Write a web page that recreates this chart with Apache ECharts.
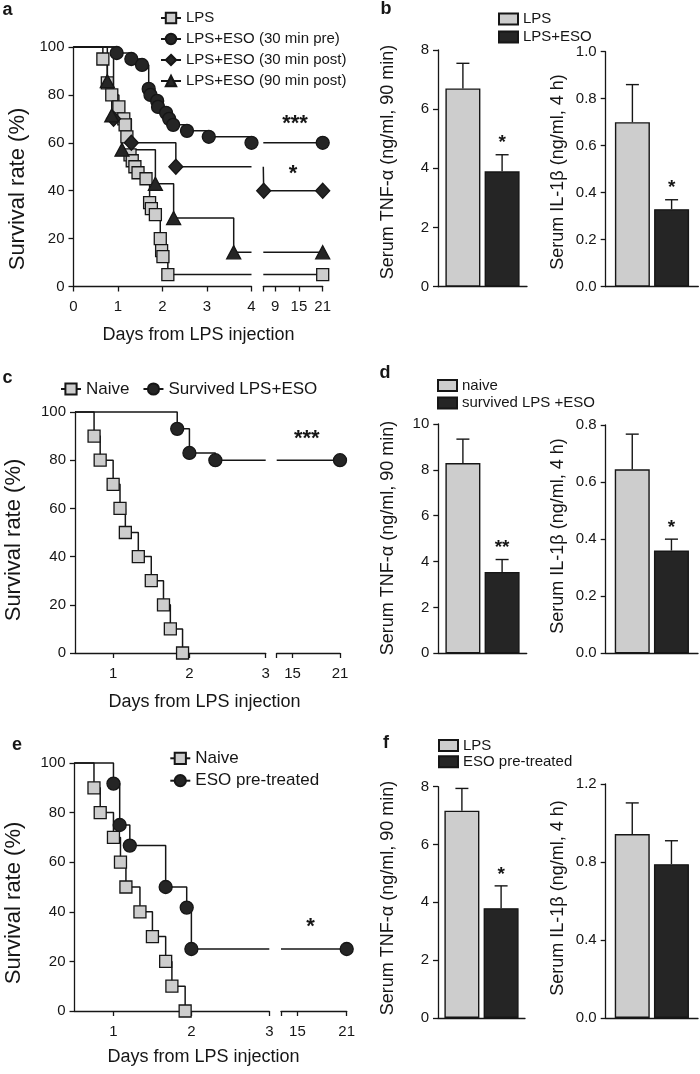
<!DOCTYPE html>
<html><head><meta charset="utf-8">
<script src="https://cdn.jsdelivr.net/npm/echarts@6/dist/echarts.min.js"></script>
<style>
html,body{margin:0;padding:0;background:#fff;width:700px;height:1074px;overflow:hidden}
.p{position:absolute;left:0;top:0;width:700px;height:1074px}
</style>
</head><body>
<div id="pa" class="p"></div><div id="pb" class="p"></div>
<div id="pc" class="p"></div><div id="pd" class="p"></div>
<div id="pe" class="p"></div><div id="pf" class="p"></div>
<script>
// ---------------- DATA ----------------
// Panel a : Kaplan-Meier survival, [day, survival %]
const aNames = ['LPS', 'LPS+ESO (30 min pre)', 'LPS+ESO (30 min post)', 'LPS+ESO (90 min post)'];
const aLPS = [[0,100],[0.66,95],[0.76,85],[0.86,80],[1.02,75],[1.13,70],[1.16,67.5],[1.2,62.5],[1.27,55],[1.32,52.5],[1.38,50],[1.45,47.5],[1.63,45],[1.71,35],[1.75,32.5],[1.84,30],[1.95,20],[1.98,15],[2.01,12.5],[2.12,5],[21,5]];
const aPre = [[0,100],[0.97,97.5],[1.3,95],[1.54,92.5],[1.69,82.5],[1.73,80],[1.88,77.5],[1.9,75],[2.08,72.5],[2.15,70],[2.24,67.5],[2.55,65],[3.04,62.5],[4,60],[21,60]];
const aPost30 = [[0,100],[0.9,70],[1.3,60],[2.3,50],[6.1,40],[21,40]];
const aPost90 = [[0,100],[0.76,85.7],[0.86,71.4],[1.09,57.1],[1.84,42.9],[2.25,28.6],[3.6,14.3],[21,14.3]];
const aEarlyTicks = [0, 1, 2, 3, 4];
const aLateTicks = [9, 15, 21];
const aStarPos = [[14, 68], [13.5, 47]];
const aStarText = ['***', '*'];

// Panel b : serum cytokines
const bGroups = ['LPS', 'LPS+ESO'];
const bTnfMean = [6.7, 3.9];
const bTnfErr = [0.85, 0.56];
const bTnfSig = ['', '*'];
const bIl1Mean = [0.70, 0.33];
const bIl1Err = [0.16, 0.04];
const bIl1Sig = ['', '*'];

// Panel c
const cNames = ['Naive', 'Survived LPS+ESO'];
const cNaive = [[0,100],[0.75,90],[0.83,80],[1.0,70],[1.09,60],[1.16,50],[1.33,40],[1.5,30],[1.66,20],[1.75,10],[1.91,0]];
const cSurvived = [[0,100],[1.84,93],[2.0,83],[2.34,80],[21,80]];
const cEarlyTicks = [1, 2, 3];
const cLateTicks = [15, 21];
const cStarPos = [[16.8, 89]];
const cStarText = ['***'];

// Panel d
const dGroups = ['naive', 'survived LPS +ESO'];
const dTnfMean = [8.3, 3.55];
const dTnfErr = [1.04, 0.54];
const dTnfSig = ['', '**'];
const dIl1Mean = [0.645, 0.36];
const dIl1Err = [0.123, 0.04];
const dIl1Sig = ['', '*'];

// Panel e
const eNames = ['Naive', 'ESO pre-treated'];
const eNaive = [[0,100],[0.75,90],[0.83,80],[1.0,70],[1.09,60],[1.16,50],[1.34,40],[1.5,30],[1.67,20],[1.75,10],[1.92,0]];
const eEso = [[0,100],[1.0,91.7],[1.08,75],[1.21,66.7],[1.67,50],[1.94,41.7],[2.0,25],[21,25]];
const eEarlyTicks = [1, 2, 3];
const eLateTicks = [15, 21];
const eStarPos = [[16.6, 34]];
const eStarText = ['*'];

// Panel f
const fGroups = ['LPS', 'ESO pre-treated'];
const fTnfMean = [7.17, 3.8];
const fTnfErr = [0.77, 0.77];
const fTnfSig = ['', '*'];
const fIl1Mean = [0.943, 0.789];
const fIl1Err = [0.16, 0.12];
const fIl1Sig = ['', ''];

// ---------------- STYLE / HELPERS ----------------
const FONT = '"Liberation Sans", Arial, Helvetica, sans-serif';
const INK = '#161616';
const LIGHT = '#cdcdcd';
const DARK = '#252525';
const AX = {color: INK, width: 1.3};

function txt(x, y, text, size, rot, bold) {
  return {type: 'text', x: x, y: y, rotation: rot || 0, silent: true,
    style: {text: text, fill: INK, font: (bold ? 'bold ' : '') + size + 'px ' + FONT,
      textAlign: 'center', textVerticalAlign: 'middle'}};
}
function grid(g) { return Object.assign({outerBoundsMode: 'none', containLabel: false}, g); }

function xVal(gi, min, max, ticks, labels) {
  return {type: 'value', gridIndex: gi, min: min, max: max,
    axisLine: {show: true, onZero: false, lineStyle: AX},
    axisTick: {show: true, inside: false, length: 5, lineStyle: AX, customValues: ticks},
    axisLabel: {show: true, margin: 13, fontSize: 15, fontFamily: FONT, color: INK, customValues: labels},
    splitLine: {show: false}};
}
function yVal(gi, min, max, interval, show, dec) {
  return {type: 'value', gridIndex: gi, min: min, max: max, interval: interval, show: show,
    axisLine: {show: true, onZero: false, lineStyle: AX},
    axisTick: {show: true, inside: false, length: 5, lineStyle: AX},
    axisLabel: {margin: 9, fontSize: 15, fontFamily: FONT, color: INK,
      formatter: function (v) { return v.toFixed(dec); }},
    splitLine: {show: false}};
}
function xCat(gi) {
  return {type: 'category', gridIndex: gi, data: ['g'],
    axisLine: {show: true, onZero: false, lineStyle: AX},
    axisTick: {show: false}, axisLabel: {show: false}, splitLine: {show: false}};
}

const SYM = {
  square: {symbol: 'rect', size: 12, fill: LIGHT},
  circle: {symbol: 'circle', size: 13, fill: DARK},
  diamond: {symbol: 'diamond', size: [14, 15], fill: DARK},
  triangle: {symbol: 'triangle', size: [14, 13], fill: DARK}
};

// Kaplan-Meier step curve, split across a broken x axis (two grids)
function kmSeries(name, pts, sym, leftMin, leftMax, rightMin, gL, gR) {
  const left = [], right = [];
  let level = pts[0][1], lastDay = pts[0][0];
  pts.forEach(function (p, i) {
    if (p[0] <= leftMax) {
      const v = [Math.max(p[0], leftMin), p[1]];
      left.push(i === 0 ? {value: v, symbol: 'none'} : v);
      level = p[1]; lastDay = p[0];
    }
  });
  if (lastDay < leftMax && level > 0) left.push({value: [leftMax, level], symbol: 'none'});
  const late = pts.filter(function (p) { return p[0] > leftMax; });
  if (late.length) {
    right.push({value: [rightMin, level], symbol: 'none'});
    late.forEach(function (p) { right.push(p); });
  }
  const s = SYM[sym];
  const base = {type: 'line', name: name, step: 'end', symbol: s.symbol, symbolSize: s.size,
    showSymbol: true, showAllSymbol: true, clip: false, animation: false,
    itemStyle: {color: s.fill, borderColor: INK, borderWidth: 1.3},
    lineStyle: {color: INK, width: 1.5}, emphasis: {disabled: true}};
  const out = [Object.assign({}, base, {xAxisIndex: gL, yAxisIndex: gL, data: left})];
  if (right.length) out.push(Object.assign({}, base, {xAxisIndex: gR, yAxisIndex: gR, data: right}));
  return out;
}

function starSeries(pos, texts, gi, size) {
  return {type: 'custom', xAxisIndex: gi, yAxisIndex: gi, data: pos, silent: true, z: 10, animation: false,
    renderItem: function (params, api) {
      const pt = api.coord([api.value(0), api.value(1)]);
      return {type: 'text', x: pt[0], y: pt[1],
        style: {text: texts[params.dataIndex], font: 'bold ' + size + 'px ' + FONT, fill: INK,
          textAlign: 'center', textVerticalAlign: 'middle'}};
    }};
}

const BW = 35, GAPPCT = 0.12;
function barSeries(groups, means, gi) {
  return groups.map(function (g, i) {
    return {type: 'bar', name: g, xAxisIndex: gi, yAxisIndex: gi, data: [means[i]],
      barWidth: BW, barGap: (GAPPCT * 100) + '%', animation: false,
      itemStyle: {color: i === 0 ? LIGHT : DARK, borderColor: INK, borderWidth: 1.4},
      emphasis: {disabled: true}};
  });
}
function errSeries(means, errs, sigs, gi) {
  const n = means.length, step = BW * (1 + GAPPCT);
  return {type: 'custom', xAxisIndex: gi, yAxisIndex: gi, silent: true, z: 5, animation: false,
    data: means.map(function (m, i) { return [0, m, m + errs[i]]; }),
    renderItem: function (params, api) {
      const i = params.dataIndex;
      const c0 = api.coord([0, api.value(1)]);
      const c1 = api.coord([0, api.value(2)]);
      const cx = c0[0] + (i - (n - 1) / 2) * step;
      const kids = [
        {type: 'line', shape: {x1: cx, y1: c0[1], x2: cx, y2: c1[1]}, style: {stroke: INK, lineWidth: 1.4}},
        {type: 'line', shape: {x1: cx - 6.5, y1: c1[1], x2: cx + 6.5, y2: c1[1]}, style: {stroke: INK, lineWidth: 1.4}}
      ];
      if (sigs[i]) kids.push({type: 'text', x: cx, y: c1[1] - 2,
        style: {text: sigs[i], font: 'bold 19px ' + FONT, fill: INK, textAlign: 'center', textVerticalAlign: 'bottom'}});
      return {type: 'group', children: kids};
    }};
}

function legendCfg(names, o) {
  return Object.assign({orient: 'vertical', itemWidth: 20, itemHeight: 13, itemGap: 6,
    selectedMode: false, padding: 0,
    textStyle: {fontSize: 15, fontFamily: FONT, color: INK, lineHeight: 15}, data: names}, o);
}

function render(id, option) {
  const ch = echarts.init(document.getElementById(id), null, {renderer: 'canvas'});
  option.animation = false;
  option.textStyle = {fontFamily: FONT};
  ch.setOption(option);
}

// ---------------- PANEL a ----------------
render('pa', {
  grid: [grid({left: 73.5, top: 47, width: 178, height: 239.5}), grid({left: 263.3, top: 47, width: 59.4, height: 239.5})],
  xAxis: [xVal(0, 0, 4, aEarlyTicks, aEarlyTicks), xVal(1, 6, 21, [6].concat(aLateTicks), aLateTicks)],
  yAxis: [yVal(0, 0, 100, 20, true, 0), yVal(1, 0, 100, 20, false, 0)],
  legend: legendCfg(aNames, {left: 160, top: 10.5}),
  series: [].concat(
    kmSeries(aNames[0], aLPS, 'square', 0, 4, 6, 0, 1),
    kmSeries(aNames[1], aPre, 'circle', 0, 4, 6, 0, 1),
    kmSeries(aNames[2], aPost30, 'diamond', 0, 4, 6, 0, 1),
    kmSeries(aNames[3], aPost90, 'triangle', 0, 4, 6, 0, 1),
    [starSeries(aStarPos, aStarText, 1, 22)]),
  graphic: [txt(7.5, 10, 'a', 18, 0, true), txt(18, 189, 'Survival rate (%)', 22, Math.PI / 2),
    txt(198.5, 335, 'Days from LPS injection', 18)]
});

// ---------------- PANEL b ----------------
render('pb', {
  grid: [grid({left: 438, top: 50, width: 89, height: 236.7}), grid({left: 605.7, top: 51.7, width: 92.6, height: 235})],
  xAxis: [xCat(0), xCat(1)],
  yAxis: [yVal(0, 0, 8, 2, true, 0), yVal(1, 0, 1, 0.2, true, 1)],
  legend: legendCfg(bGroups, {left: 498, top: 11.5, icon: 'rect', itemWidth: 19, itemHeight: 11, itemGap: 3}),
  series: [].concat(barSeries(bGroups, bTnfMean, 0), barSeries(bGroups, bIl1Mean, 1),
    [errSeries(bTnfMean, bTnfErr, bTnfSig, 0), errSeries(bIl1Mean, bIl1Err, bIl1Sig, 1)]),
  graphic: [txt(386, 9, 'b', 18, 0, true), txt(388, 162, 'Serum TNF-\u03b1 (ng/ml, 90 min)', 18, Math.PI / 2),
    txt(557.7, 172, 'Serum IL-1\u03b2 (ng/ml, 4 h)', 18, Math.PI / 2)]
});

// ---------------- PANEL c ----------------
render('pc', {
  grid: [grid({left: 75, top: 412, width: 190.7, height: 241}), grid({left: 276.7, top: 412, width: 63.3, height: 241})],
  xAxis: [xVal(0, 0.5, 3, cEarlyTicks, cEarlyTicks), xVal(1, 13, 21, [13].concat(cLateTicks), cLateTicks)],
  yAxis: [yVal(0, 0, 100, 20, true, 0), yVal(1, 0, 100, 20, false, 0)],
  legend: legendCfg(cNames, {orient: 'horizontal', left: 60, top: 380.5, itemWidth: 20, itemHeight: 14, itemGap: 13,
    textStyle: {fontSize: 17, fontFamily: FONT, color: INK, lineHeight: 17}}),
  series: [].concat(
    kmSeries(cNames[0], cNaive, 'square', 0.5, 3, 13, 0, 1),
    kmSeries(cNames[1], cSurvived, 'circle', 0.5, 3, 13, 0, 1),
    [starSeries(cStarPos, cStarText, 1, 22)]),
  graphic: [txt(7.5, 378, 'c', 18, 0, true), txt(13.5, 540, 'Survival rate (%)', 22, Math.PI / 2),
    txt(204.5, 702, 'Days from LPS injection', 18)]
});

// ---------------- PANEL d ----------------
render('pd', {
  grid: [grid({left: 438.3, top: 424, width: 88.4, height: 229.3}), grid({left: 605.7, top: 425, width: 92.3, height: 228.3})],
  xAxis: [xCat(0), xCat(1)],
  yAxis: [yVal(0, 0, 10, 2, true, 0), yVal(1, 0, 0.8, 0.2, true, 1)],
  legend: legendCfg(dGroups, {left: 437, top: 378, icon: 'rect', itemWidth: 19, itemHeight: 11, itemGap: 2.5}),
  series: [].concat(barSeries(dGroups, dTnfMean, 0), barSeries(dGroups, dIl1Mean, 1),
    [errSeries(dTnfMean, dTnfErr, dTnfSig, 0), errSeries(dIl1Mean, dIl1Err, dIl1Sig, 1)]),
  graphic: [txt(385, 373, 'd', 18, 0, true), txt(388.3, 538, 'Serum TNF-\u03b1 (ng/ml, 90 min)', 18, Math.PI / 2),
    txt(557.7, 536, 'Serum IL-1\u03b2 (ng/ml, 4 h)', 18, Math.PI / 2)]
});

// ---------------- PANEL e ----------------
render('pe', {
  grid: [grid({left: 74.5, top: 763, width: 194.8, height: 248}), grid({left: 281, top: 763, width: 65.7, height: 248})],
  xAxis: [xVal(0, 0.5, 3, eEarlyTicks, eEarlyTicks), xVal(1, 13, 21, [13].concat(eLateTicks), eLateTicks)],
  yAxis: [yVal(0, 0, 100, 20, true, 0), yVal(1, 0, 100, 20, false, 0)],
  legend: legendCfg(eNames, {left: 169.3, top: 749.8, itemWidth: 20, itemHeight: 14, itemGap: 5.4,
    textStyle: {fontSize: 17, fontFamily: FONT, color: INK, lineHeight: 17}}),
  series: [].concat(
    kmSeries(eNames[0], eNaive, 'square', 0.5, 3, 13, 0, 1),
    kmSeries(eNames[1], eEso, 'circle', 0.5, 3, 13, 0, 1),
    [starSeries(eStarPos, eStarText, 1, 22)]),
  graphic: [txt(17, 745, 'e', 18, 0, true), txt(14, 903, 'Survival rate (%)', 22, Math.PI / 2),
    txt(203.5, 1057, 'Days from LPS injection', 18)]
});

// ---------------- PANEL f ----------------
render('pf', {
  grid: [grid({left: 438, top: 786.7, width: 87, height: 231.3}), grid({left: 605.7, top: 784, width: 92.3, height: 234})],
  xAxis: [xCat(0), xCat(1)],
  yAxis: [yVal(0, 0, 8, 2, true, 0), yVal(1, 0, 1.2, 0.4, true, 1)],
  legend: legendCfg(fGroups, {left: 438, top: 738, icon: 'rect', itemWidth: 19, itemHeight: 11, itemGap: 1.3}),
  series: [].concat(barSeries(fGroups, fTnfMean, 0), barSeries(fGroups, fIl1Mean, 1),
    [errSeries(fTnfMean, fTnfErr, fTnfSig, 0), errSeries(fIl1Mean, fIl1Err, fIl1Sig, 1)]),
  graphic: [txt(386, 743, 'f', 18, 0, true), txt(388, 898, 'Serum TNF-\u03b1 (ng/ml, 90 min)', 18, Math.PI / 2),
    txt(557.7, 898, 'Serum IL-1\u03b2 (ng/ml, 4 h)', 18, Math.PI / 2)]
});
</script>
</body></html>
